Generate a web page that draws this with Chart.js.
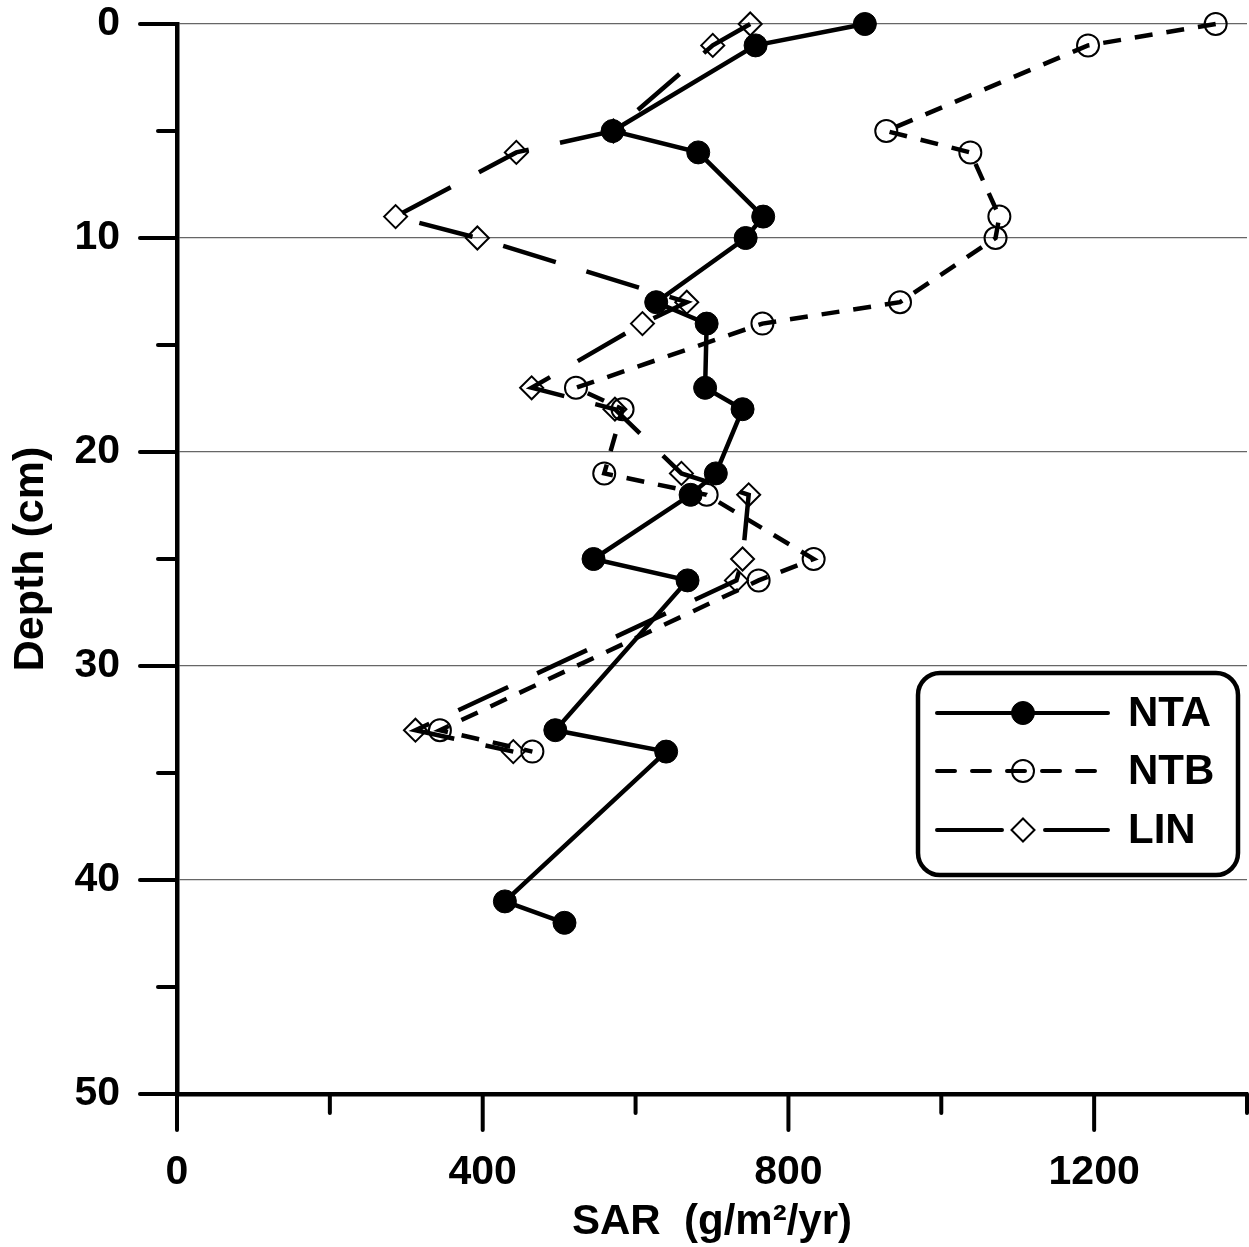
<!DOCTYPE html>
<html>
<head>
<meta charset="utf-8">
<title>SAR vs depth</title>
<script src="https://cdn.jsdelivr.net/npm/chart.js@4/dist/chart.umd.min.js"></script>
<style>
  html, body { margin: 0; padding: 0; background: #fff; }
  canvas { display: block; }
</style>
</head>
<body>
<canvas id="myChart" width="1249" height="1247"></canvas>
<script>
// Depth (cm) of each sample, per core
const depthNTA = [0, 1, 5, 6, 9, 10, 13, 14, 17, 18, 21, 22, 25, 26, 33, 34, 41, 42];
const depthNTB = [0, 1, 5, 6, 9, 10, 13, 14, 17, 18, 21, 22, 25, 26, 33, 34];
const depthLIN = [0, 1, 5, 6, 9, 10, 13, 14, 17, 18, 21, 22, 25, 26, 33, 34];

// SAR (g/m2/yr)
const sarNTA = [900, 757, 570, 682, 767, 744, 627, 693, 691, 740, 705, 672, 545, 668, 495, 640, 429, 507];
const sarNTB = [1359, 1192, 928, 1038, 1076, 1071, 946, 766, 522, 583, 559, 693, 833, 761, 344, 465];
const sarLIN = [750, 701, 571, 444, 286, 393, 667, 609, 464, 573, 660, 748, 740, 732, 312, 440];

// Axis ticks and the ones that get a label
const depthTicks = [0, 5, 10, 15, 20, 25, 30, 35, 40, 45, 50];
const depthLabels = ['0', '10', '20', '30', '40', '50'];
const sarTicks = [0, 200, 400, 600, 800, 1000, 1200, 1400];
const sarLabels = ['0', '400', '800', '1200'];

const FONT = "'Liberation Sans', Arial, sans-serif";

function toPoints(xs, ys) {
  return xs.map((v, i) => ({ x: v, y: ys[i] }));
}

// no extra room for labels sticking out, the plot box is fixed
function fixBox(scale, prop, size) {
  scale[prop] = size;
  scale.paddingTop = 0;
  scale.paddingBottom = 0;
  scale.paddingLeft = 0;
  scale.paddingRight = 0;
}

// Tick marks: long at labelled values, short in between
const axisTicks = {
  id: 'axisTicks',
  afterDraw(chart) {
    const { ctx, chartArea: a, scales: { x, y } } = chart;
    ctx.save();
    ctx.strokeStyle = '#000';
    ctx.lineWidth = 4;
    ctx.lineCap = 'round';
    depthTicks.forEach(v => {
      const py = y.getPixelForValue(v);
      const len = depthLabels.includes(String(v)) ? 37 : 19;
      ctx.beginPath();
      ctx.moveTo(a.left - len, py);
      ctx.lineTo(a.left, py);
      ctx.stroke();
    });
    sarTicks.forEach(v => {
      const px = x.getPixelForValue(v);
      const len = sarLabels.includes(String(v)) ? 36 : 19;
      ctx.beginPath();
      ctx.moveTo(px, a.bottom);
      ctx.lineTo(px, a.bottom + len);
      ctx.stroke();
    });
    ctx.restore();
  }
};

// Boxed legend with a line sample and the marker in its middle
const boxLegend = {
  id: 'boxLegend',
  afterDraw(chart) {
    const ctx = chart.ctx;
    const bx = 918, by = 673, bw = 320, bh = 202, r = 22;
    ctx.save();
    ctx.beginPath();
    ctx.roundRect(bx, by, bw, bh, r);
    ctx.fillStyle = '#fff';
    ctx.fill();
    ctx.lineWidth = 4.5;
    ctx.strokeStyle = '#000';
    ctx.stroke();

    const rows = [713, 771, 830];
    const dashes = [[], [18, 17], [65, 43]];
    chart.data.datasets.forEach((ds, i) => {
      const yy = rows[i];
      ctx.setLineDash(dashes[i]);
      ctx.lineWidth = 4;
      ctx.lineCap = 'round';
      ctx.beginPath();
      ctx.moveTo(937, yy);
      ctx.lineTo(1108, yy);
      ctx.stroke();
      ctx.setLineDash([]);
      const mx = 1023;
      ctx.lineWidth = ds.pointBorderWidth;
      ctx.beginPath();
      if (ds.pointStyle === 'rectRot') {
        const s = ds.pointRadius;
        ctx.moveTo(mx, yy - s);
        ctx.lineTo(mx + s, yy);
        ctx.lineTo(mx, yy + s);
        ctx.lineTo(mx - s, yy);
        ctx.closePath();
        ctx.fillStyle = '#fff';
        ctx.fill();
      } else {
        ctx.arc(mx, yy, ds.pointRadius, 0, Math.PI * 2);
        if (ds.pointBackgroundColor === '#000') {
          ctx.fillStyle = '#000';
          ctx.fill();
        }
      }
      ctx.stroke();

      ctx.fillStyle = '#000';
      ctx.font = 'bold 42px ' + FONT;
      ctx.textBaseline = 'middle';
      ctx.textAlign = 'left';
      ctx.fillText(ds.label, 1128, yy + 1);
    });
    ctx.restore();
  }
};

const ctx = document.getElementById('myChart');

new Chart(ctx, {
  type: 'scatter',
  data: {
    datasets: [
      {
        label: 'NTA',
        data: toPoints(sarNTA, depthNTA),
        showLine: true,
        borderColor: '#000',
        borderWidth: 4.5,
        pointStyle: 'circle',
        pointRadius: 11.5,
        pointBorderWidth: 1,
        pointBackgroundColor: '#000',
        pointBorderColor: '#000',
        order: 1,
        clip: false
      },
      {
        label: 'NTB',
        data: toPoints(sarNTB, depthNTB),
        showLine: true,
        borderColor: '#000',
        borderWidth: 4.5,
        borderDash: [18, 14],
        pointStyle: 'circle',
        pointRadius: 11,
        pointBorderWidth: 2,
        pointBackgroundColor: 'rgba(0,0,0,0)',
        pointBorderColor: '#000',
        order: 0,
        clip: false
      },
      {
        label: 'LIN',
        data: toPoints(sarLIN, depthLIN),
        showLine: true,
        borderColor: '#000',
        borderWidth: 4.5,
        borderDash: [55, 32],
        pointStyle: 'rectRot',
        pointRadius: 11.5,
        pointBorderWidth: 2,
        pointBackgroundColor: 'rgba(0,0,0,0)',
        pointBorderColor: '#000',
        order: 2,
        clip: false
      }
    ]
  },
  options: {
    responsive: false,
    animation: false,
    devicePixelRatio: 1,
    layout: { autoPadding: false, padding: { top: 24, right: 2, left: 0, bottom: 0 } },
    plugins: {
      legend: { display: false },
      tooltip: { enabled: false }
    },
    scales: {
      x: {
        type: 'linear',
        min: 0,
        max: 1400,
        afterFit(scale) { fixBox(scale, 'height', 153); },
        afterBuildTicks(scale) { scale.ticks = sarTicks.map(v => ({ value: v })); },
        ticks: {
          autoSkip: false,
          maxRotation: 0,
          padding: 58,
          color: '#000',
          font: { family: FONT, size: 41, weight: 'bold', lineHeight: 1 },
          callback: v => sarLabels.includes(String(v)) ? String(v) : ''
        },
        grid: { display: false, drawTicks: false },
        border: { display: true, color: '#000', width: 4.5 },
        title: {
          display: true,
          text: 'SAR  (g/m²/yr)',
          color: '#000',
          font: { family: FONT, size: 42, weight: 'bold', lineHeight: 1 },
          padding: { top: 0, bottom: 4 }
        }
      },
      y: {
        type: 'linear',
        reverse: true,
        min: 0,
        max: 50,
        afterFit(scale) { fixBox(scale, 'width', 177); },
        afterBuildTicks(scale) { scale.ticks = depthTicks.map(v => ({ value: v })); },
        ticks: {
          autoSkip: false,
          padding: 57,
          color: '#000',
          font: { family: FONT, size: 41, weight: 'bold', lineHeight: 1 },
          callback: v => depthLabels.includes(String(v)) ? String(v) : ''
        },
        grid: {
          drawTicks: false,
          lineWidth: 1.2,
          color: c => (c.tick && c.tick.value % 10 === 0 && c.tick.value !== 50) ? '#666' : 'rgba(0,0,0,0)'
        },
        border: { display: true, color: '#000', width: 4.5 },
        title: {
          display: true,
          text: 'Depth (cm)',
          color: '#000',
          font: { family: FONT, size: 43, weight: 'bold', lineHeight: 1 },
          padding: { top: 10, bottom: 0 }
        }
      }
    }
  },
  plugins: [axisTicks, boxLegend]
});
</script>
</body>
</html>
